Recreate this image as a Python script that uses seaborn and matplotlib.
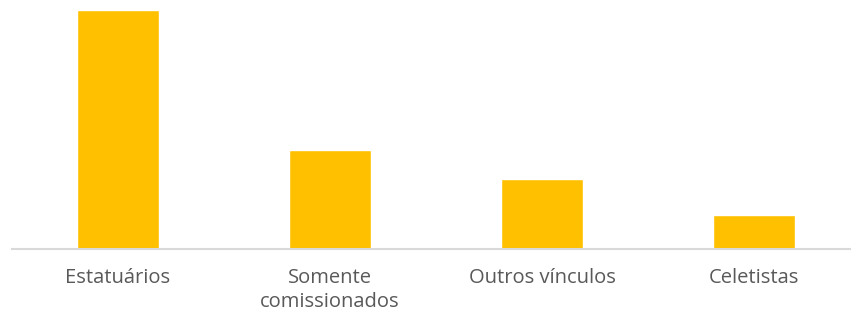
import matplotlib
matplotlib.use("Agg")
import matplotlib.pyplot as plt
import seaborn as sns
import pandas as pd

# Data (bar heights in pixels, relative)
categories = ["Estatuários", "Somente\ncomissionados", "Outros vínculos", "Celetistas"]
values = [238, 99, 70, 34]

df = pd.DataFrame({"categoria": categories, "valor": values})

sns.set_theme(style="white")
plt.rcParams["font.family"] = ["Open Sans", "DejaVu Sans"]

W, H = 851, 319
fig = plt.figure(figsize=(W / 100, H / 100), dpi=100)
ax = fig.add_axes([12 / W, 70 / H, 848 / W, 239 / H])

sns.barplot(data=df, x="categoria", y="valor", color="#FFC000",
            width=0.385, saturation=1, ax=ax)

ax.set_xlim(-0.5, 3.5)
ax.set_ylim(0, 238)
ax.set_xlabel("")
ax.set_ylabel("")
ax.set_yticks([])
for s in ["top", "right", "left"]:
    ax.spines[s].set_visible(False)
ax.spines["bottom"].set_color("#d9d9d9")
ax.spines["bottom"].set_linewidth(1.5)
ax.tick_params(axis="x", length=0, pad=14, labelsize=14.5, labelcolor="#595959")
for lbl in ax.get_xticklabels():
    lbl.set_verticalalignment("top")
    lbl.set_linespacing(1.25)

fig.savefig("out.png", dpi=100)
